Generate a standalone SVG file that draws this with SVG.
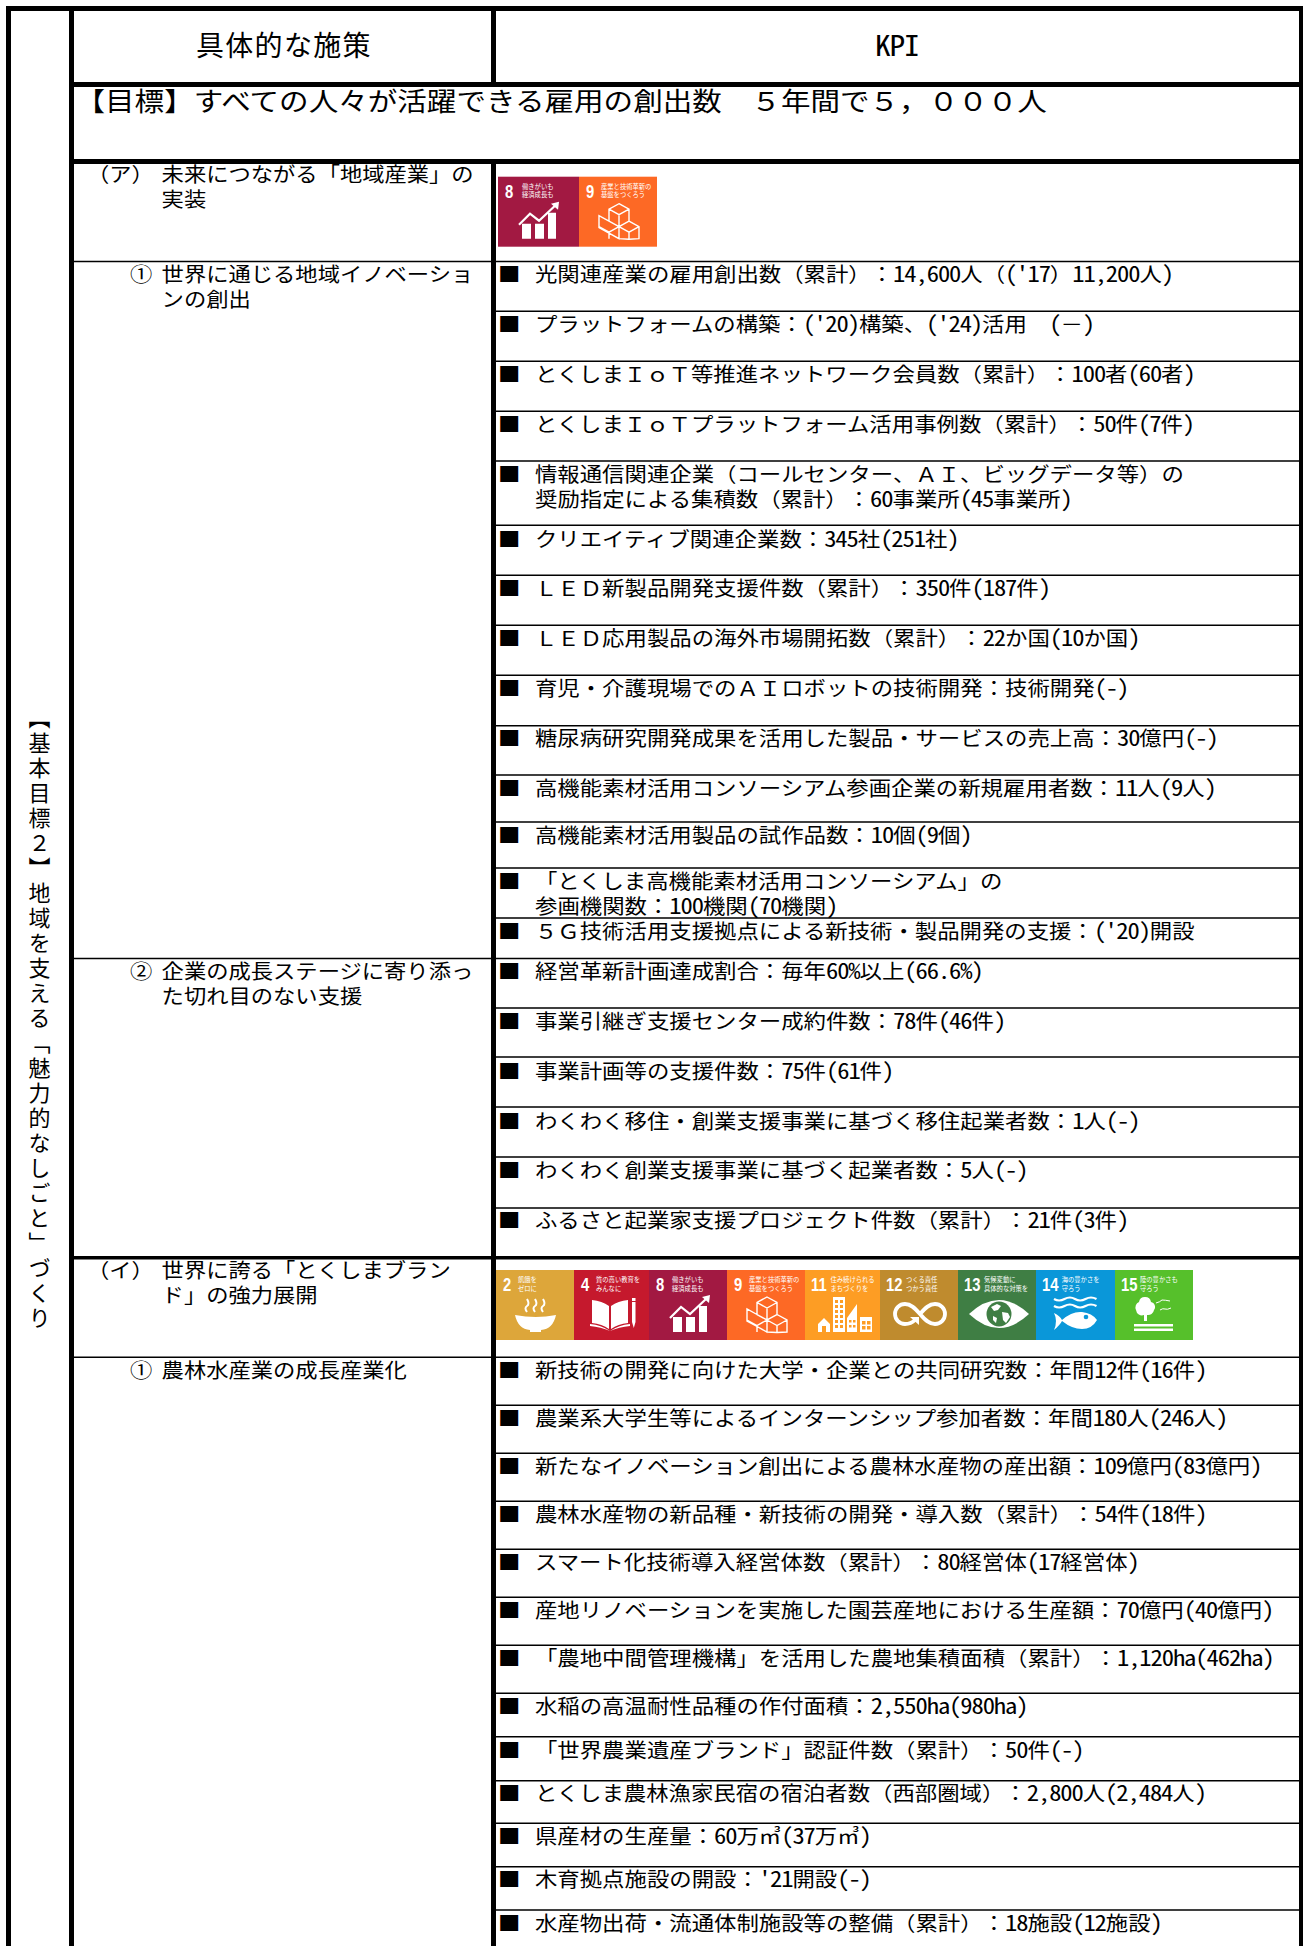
<svg xmlns="http://www.w3.org/2000/svg" width="1303" height="1946" viewBox="0 0 1303 1946">
<style>
text{font-family:"Noto Sans CJK JP","Noto Sans CJK SC",sans-serif;fill:#000;text-spacing-trim:space-all;font-size:20px}
.h{font-feature-settings:"hwid";font-size:22px;letter-spacing:-1px}
.head{font-size:28px;letter-spacing:1.300px}
.goal{font-size:26px}
.kpih{font-size:28px;letter-spacing:-1px;font-feature-settings:"hwid"}
.vert{font-size:22px;letter-spacing:3px;writing-mode:vertical-rl}
.thick{fill:#000}
.thin{stroke:#000;stroke-width:1.4;fill:none}
.ic text{fill:#fff;font-size:6.3px}
.ic text.n{font-family:"Liberation Sans",sans-serif;font-weight:700;font-size:19px}
.w{fill:#fff}
.s{fill:none;stroke:#fff;stroke-width:1.4}
</style>
<defs>
<g id="g8"><path class="w" d="M24 47h9v15h-9zM37 47h9v15h-9zM50 36h8v26h-8z"/><path class="s" style="stroke-width:2.2" d="M21 48L32 37L41 44L57 29"/><path class="w" d="M53 27L61 25L60 33z"/></g>
<g id="g9"><path class="s" d="M40 27l10 5.500v12l-10 5.500l-10-5.500v-12zM30 32.500l10 5.500l10-5.500M40 38v12M30 44.500l10 5.500v12l-10-5.500-10-5.500v-12zM20 50l10 5.500l10-5.500M30 55.500v6.500M50 44.500l10 5.500v12l-10 .5-10-.5v-12zM40 50l10 5.500l10-5.500M50 55.500v7"/></g>
</defs>
<rect width="1303" height="1946" fill="#fff"/>

<g id="connectors">
<rect class="thick" x="6" y="6" width="1297" height="5"/>
<rect class="thick" x="6" y="6" width="5" height="1940"/>
<rect class="thick" x="69" y="6" width="5" height="1940"/>
<rect class="thick" x="491" y="6" width="5" height="81"/>
<rect class="thick" x="491" y="159" width="5" height="1787"/>
<rect class="thick" x="1299" y="6" width="4" height="1940"/>
<rect class="thick" x="69" y="82" width="1234" height="5"/>
<rect class="thick" x="69" y="159" width="1234" height="5"/>
<rect class="thick" x="69" y="1256" width="1234" height="3.500"/>
<path class="thin" d="M74 261.500H1299M74 958.500H1299M74 1357.300H1299M496 311.300H1299M496 361.300H1299M496 411.300H1299M496 461H1299M496 525.300H1299M496 575.300H1299M496 625.300H1299M496 675.300H1299M496 725.700H1299M496 775H1299M496 822H1299M496 868H1299M496 918H1299M496 1008H1299M496 1057H1299M496 1107H1299M496 1157H1299M496 1208H1299M496 1405.300H1299M496 1453.300H1299M496 1501.300H1299M496 1549.300H1299M496 1597.300H1299M496 1645.300H1299M496 1693.300H1299M496 1736.700H1299M496 1780.700H1299M496 1823.300H1299M496 1866.700H1299M496 1910H1299"/>
</g>

<g id="side-title"><text class="vert" x="39.500" y="707">【基本目標２】地域を支える「魅力的なしごと」づくり</text></g>
<g id="head-measures"><text class="head" x="196" y="56">具体的な施策</text></g>
<g id="head-kpi"><text class="kpih" transform="matrix(1.12 0 0 1 875 56)">KPI</text></g>
<g id="goal"><text class="goal" transform="matrix(1.137 0 0 1 75.500 111)">【目標】すべての人々が活躍できる雇用の創出数　５年間で５，０００人</text></g>

<g id="measure-a"><text transform="matrix(1.115 0 0 1 87 182)">（ア）</text><text transform="matrix(1.115 0 0 1 161.600 182)">未来につながる「地域産業」の</text><text transform="matrix(1.115 0 0 1 161.600 207)">実装</text></g>
<g id="measure-a1"><text transform="matrix(1.115 0 0 1 130 282)">①</text><text transform="matrix(1.115 0 0 1 161.600 282)">世界に通じる地域イノベーショ</text><text transform="matrix(1.115 0 0 1 161.600 307)">ンの創出</text></g>
<g id="measure-a2"><text transform="matrix(1.115 0 0 1 130 979)">②</text><text transform="matrix(1.115 0 0 1 161.600 979)">企業の成長ステージに寄り添っ</text><text transform="matrix(1.115 0 0 1 161.600 1004)">た切れ目のない支援</text></g>
<g id="measure-b"><text transform="matrix(1.115 0 0 1 87 1278)">（イ）</text><text transform="matrix(1.115 0 0 1 161.600 1278)">世界に誇る「とくしまブラン</text><text transform="matrix(1.115 0 0 1 161.600 1303)">ド」の強力展開</text></g>
<g id="measure-b1"><text transform="matrix(1.115 0 0 1 130 1377.500)">①</text><text transform="matrix(1.115 0 0 1 161.600 1377.500)">農林水産業の成長産業化</text></g>

<g id="kpi-rows">
<g id="k01"><text transform="matrix(1.12 0 0 1 498 281.500)">■<tspan x="33">光関連産業の雇用創出数（累計）：</tspan><tspan class="h">14,600</tspan>人（<tspan class="h">('17</tspan>）<tspan class="h">11,200</tspan>人<tspan class="h">)</tspan></text></g>
<g id="k02"><text transform="matrix(1.12 0 0 1 498 331.800)">■<tspan x="33">プラットフォームの構築：</tspan><tspan class="h">('20)</tspan>構築、<tspan class="h">('24)</tspan>活用　<tspan class="h">(</tspan>－<tspan class="h">)</tspan></text></g>
<g id="k03"><text transform="matrix(1.12 0 0 1 498 381.800)">■<tspan x="33">とくしまＩｏＴ等推進ネットワーク会員数（累計）：</tspan><tspan class="h">100</tspan>者<tspan class="h">(60</tspan>者<tspan class="h">)</tspan></text></g>
<g id="k04"><text transform="matrix(1.12 0 0 1 498 431.800)">■<tspan x="33">とくしまＩｏＴプラットフォーム活用事例数（累計）：</tspan><tspan class="h">50</tspan>件<tspan class="h">(7</tspan>件<tspan class="h">)</tspan></text></g>
<g id="k05"><text transform="matrix(1.12 0 0 1 498 481.500)">■<tspan x="33">情報通信関連企業（コールセンター、ＡＩ、ビッグデータ等）の</tspan></text><text transform="matrix(1.12 0 0 1 535 507)">奨励指定による集積数（累計）：<tspan class="h">60</tspan>事業所<tspan class="h">(45</tspan>事業所<tspan class="h">)</tspan></text></g>
<g id="k06"><text transform="matrix(1.12 0 0 1 498 546.800)">■<tspan x="33">クリエイティブ関連企業数：</tspan><tspan class="h">345</tspan>社<tspan class="h">(251</tspan>社<tspan class="h">)</tspan></text></g>
<g id="k07"><text transform="matrix(1.12 0 0 1 498 595.800)">■<tspan x="33">ＬＥＤ新製品開発支援件数（累計）：</tspan><tspan class="h">350</tspan>件<tspan class="h">(187</tspan>件<tspan class="h">)</tspan></text></g>
<g id="k08"><text transform="matrix(1.12 0 0 1 498 645.800)">■<tspan x="33">ＬＥＤ応用製品の海外市場開拓数（累計）：</tspan><tspan class="h">22</tspan>か国<tspan class="h">(10</tspan>か国<tspan class="h">)</tspan></text></g>
<g id="k09"><text transform="matrix(1.12 0 0 1 498 695.800)">■<tspan x="33">育児・介護現場でのＡＩロボットの技術開発：技術開発</tspan><tspan class="h">(-)</tspan></text></g>
<g id="k10"><text transform="matrix(1.12 0 0 1 498 746.200)">■<tspan x="33">糖尿病研究開発成果を活用した製品・サービスの売上高：</tspan><tspan class="h">30</tspan>億円<tspan class="h">(-)</tspan></text></g>
<g id="k11"><text transform="matrix(1.12 0 0 1 498 795.500)">■<tspan x="33">高機能素材活用コンソーシアム参画企業の新規雇用者数：</tspan><tspan class="h">11</tspan>人<tspan class="h">(9</tspan>人<tspan class="h">)</tspan></text></g>
<g id="k12"><text transform="matrix(1.12 0 0 1 498 842.500)">■<tspan x="33">高機能素材活用製品の試作品数：</tspan><tspan class="h">10</tspan>個<tspan class="h">(9</tspan>個<tspan class="h">)</tspan></text></g>
<g id="k13"><text transform="matrix(1.12 0 0 1 498 888.500)">■<tspan x="33">「とくしま高機能素材活用コンソーシアム」の</tspan></text><text transform="matrix(1.12 0 0 1 535 913.500)">参画機関数：<tspan class="h">100</tspan>機関<tspan class="h">(70</tspan>機関<tspan class="h">)</tspan></text></g>
<g id="k14"><text transform="matrix(1.12 0 0 1 498 938.500)">■<tspan x="33">５Ｇ技術活用支援拠点による新技術・製品開発の支援：</tspan><tspan class="h">('20)</tspan>開設</text></g>
<g id="k15"><text transform="matrix(1.12 0 0 1 498 979)">■<tspan x="33">経営革新計画達成割合：毎年</tspan><tspan class="h">60%</tspan>以上<tspan class="h">(66.6%)</tspan></text></g>
<g id="k16"><text transform="matrix(1.12 0 0 1 498 1028.500)">■<tspan x="33">事業引継ぎ支援センター成約件数：</tspan><tspan class="h">78</tspan>件<tspan class="h">(46</tspan>件<tspan class="h">)</tspan></text></g>
<g id="k17"><text transform="matrix(1.12 0 0 1 498 1078.500)">■<tspan x="33">事業計画等の支援件数：</tspan><tspan class="h">75</tspan>件<tspan class="h">(61</tspan>件<tspan class="h">)</tspan></text></g>
<g id="k18"><text transform="matrix(1.12 0 0 1 498 1128.500)">■<tspan x="33">わくわく移住・創業支援事業に基づく移住起業者数：</tspan><tspan class="h">1</tspan>人<tspan class="h">(-)</tspan></text></g>
<g id="k19"><text transform="matrix(1.12 0 0 1 498 1177.500)">■<tspan x="33">わくわく創業支援事業に基づく起業者数：</tspan><tspan class="h">5</tspan>人<tspan class="h">(-)</tspan></text></g>
<g id="k20"><text transform="matrix(1.12 0 0 1 498 1227.500)">■<tspan x="33">ふるさと起業家支援プロジェクト件数（累計）：</tspan><tspan class="h">21</tspan>件<tspan class="h">(3</tspan>件<tspan class="h">)</tspan></text></g>
<g id="k21"><text transform="matrix(1.12 0 0 1 498 1377.800)">■<tspan x="33">新技術の開発に向けた大学・企業との共同研究数：年間</tspan><tspan class="h">12</tspan>件<tspan class="h">(16</tspan>件<tspan class="h">)</tspan></text></g>
<g id="k22"><text transform="matrix(1.12 0 0 1 498 1425.800)">■<tspan x="33">農業系大学生等によるインターンシップ参加者数：年間</tspan><tspan class="h">180</tspan>人<tspan class="h">(246</tspan>人<tspan class="h">)</tspan></text></g>
<g id="k23"><text transform="matrix(1.12 0 0 1 498 1473.800)">■<tspan x="33">新たなイノベーション創出による農林水産物の産出額：</tspan><tspan class="h">109</tspan>億円<tspan class="h">(83</tspan>億円<tspan class="h">)</tspan></text></g>
<g id="k24"><text transform="matrix(1.12 0 0 1 498 1521.800)">■<tspan x="33">農林水産物の新品種・新技術の開発・導入数（累計）：</tspan><tspan class="h">54</tspan>件<tspan class="h">(18</tspan>件<tspan class="h">)</tspan></text></g>
<g id="k25"><text transform="matrix(1.12 0 0 1 498 1569.800)">■<tspan x="33">スマート化技術導入経営体数（累計）：</tspan><tspan class="h">80</tspan>経営体<tspan class="h">(17</tspan>経営体<tspan class="h">)</tspan></text></g>
<g id="k26"><text transform="matrix(1.12 0 0 1 498 1617.800)">■<tspan x="33">産地リノベーションを実施した園芸産地における生産額：</tspan><tspan class="h">70</tspan>億円<tspan class="h">(40</tspan>億円<tspan class="h">)</tspan></text></g>
<g id="k27"><text transform="matrix(1.12 0 0 1 498 1665.800)">■<tspan x="33">「農地中間管理機構」を活用した農地集積面積（累計）：</tspan><tspan class="h">1,120ha(462ha)</tspan></text></g>
<g id="k28"><text transform="matrix(1.12 0 0 1 498 1713.800)">■<tspan x="33">水稲の高温耐性品種の作付面積：</tspan><tspan class="h">2,550ha(980ha)</tspan></text></g>
<g id="k29"><text transform="matrix(1.12 0 0 1 498 1758.200)">■<tspan x="33">「世界農業遺産ブランド」認証件数（累計）：</tspan><tspan class="h">50</tspan>件<tspan class="h">(-)</tspan></text></g>
<g id="k30"><text transform="matrix(1.12 0 0 1 498 1801.200)">■<tspan x="33">とくしま農林漁家民宿の宿泊者数（西部圏域）：</tspan><tspan class="h">2,800</tspan>人<tspan class="h">(2,484</tspan>人<tspan class="h">)</tspan></text></g>
<g id="k31"><text transform="matrix(1.12 0 0 1 498 1843.800)">■<tspan x="33">県産材の生産量：</tspan><tspan class="h">60</tspan>万㎥<tspan class="h">(37</tspan>万㎥<tspan class="h">)</tspan></text></g>
<g id="k32"><text transform="matrix(1.12 0 0 1 498 1887.200)">■<tspan x="33">木育拠点施設の開設：</tspan><tspan class="h">'21</tspan>開設<tspan class="h">(-)</tspan></text></g>
<g id="k33"><text transform="matrix(1.12 0 0 1 498 1930.500)">■<tspan x="33">水産物出荷・流通体制施設等の整備（累計）：</tspan><tspan class="h">18</tspan>施設<tspan class="h">(12</tspan>施設<tspan class="h">)</tspan></text></g>
</g>

<g id="sdg-a" class="ic">
<g id="sdg-a8" transform="translate(498 176.700)"><rect width="81" height="70" fill="#A21942"/><text class="n" transform="matrix(.78 0 0 1 7 21)">8</text><text x="24" y="12">働きがいも</text><text x="24" y="20.500">経済成長も</text><use href="#g8"/></g>
<g id="sdg-a9" transform="translate(579 176.700)"><rect width="78" height="70" fill="#FD6925"/><text class="n" transform="matrix(.78 0 0 1 7 21)">9</text><text x="22" y="12">産業と技術革新の</text><text x="22" y="20.500">基盤をつくろう</text><use href="#g9"/></g>
</g>

<g id="sdg-b" class="ic">
<g id="sdg-2" transform="translate(496 1270)"><rect width="78" height="70" fill="#DDA63A"/><text class="n" transform="matrix(.78 0 0 1 7 20.500)">2</text><text x="22" y="12">飢餓を</text><text x="22" y="20.500">ゼロに</text><path class="w" d="M19 45q21 4 41 0q-3 14-15 15v2h-11v-2q-12-1-15-15z"/><path class="s" style="stroke-width:2" d="M31 42q-3-4 0-6t0-7M39 42q-3-4 0-6t0-7M47 42q-3-4 0-6t0-7"/></g>
<g id="sdg-4" transform="translate(574 1270)"><rect width="75" height="70" fill="#C5192D"/><text class="n" transform="matrix(.78 0 0 1 7 20.500)">4</text><text x="22" y="12">質の高い教育を</text><text x="22" y="20.500">みんなに</text><path class="w" d="M18 30q10 1 17 6v23q-7-5-17-6zM37 36q7-5 17-6v23q-10 1-17 6zM16 54q11 1 20 7q9-6 20-7v2q-11 1-20 5q-9-4-20-5z"/><path class="w" d="M58 32h3.500v20l-1.700 6-1.800-6zM58 28h3.500v3h-3.500z"/></g>
<g id="sdg-8" transform="translate(649 1270)"><rect width="78" height="70" fill="#A21942"/><text class="n" transform="matrix(.78 0 0 1 7 20.500)">8</text><text x="23" y="12">働きがいも</text><text x="23" y="20.500">経済成長も</text><use href="#g8"/></g>
<g id="sdg-9" transform="translate(727 1270)"><rect width="78" height="70" fill="#FD6925"/><text class="n" transform="matrix(.78 0 0 1 7 20.500)">9</text><text x="22" y="12">産業と技術革新の</text><text x="22" y="20.500">基盤をつくろう</text><use href="#g9"/></g>
<g id="sdg-11" transform="translate(805 1270)"><rect width="75" height="70" fill="#FD9D24"/><text class="n" transform="matrix(.78 0 0 1 6 20.500)">11</text><text x="25.500" y="12">住み続けられる</text><text x="25.500" y="20.500">まちづくりを</text><path class="w" d="M13 54l6-6 6 6v8h-12zM28 27h12v35h-12zM42 62V48l10-14v28zM55 47h12v15h-12z"/><path fill="#FD9D24" d="M17 56h4v6h-4zM30 30h3v3h-3zM35 30h3v3h-3zM30 35h3v3h-3zM35 35h3v3h-3zM30 40h3v3h-3zM35 40h3v3h-3zM30 45h3v3h-3zM35 45h3v3h-3zM30 50h3v3h-3zM35 50h3v3h-3zM30 55h3v3h-3zM35 55h3v3h-3zM44 50h2.500v2.500h-2.500zM48 50h2.500v2.500h-2.500zM44 55h2.500v2.500h-2.500zM48 55h2.500v2.500h-2.500zM57 51h3.500v3.500h-3.500zM62 51h3.500v3.500h-3.500zM57 56h3.500v3.500h-3.500zM62 56h3.500v3.500h-3.500z"/></g>
<g id="sdg-12" transform="translate(880 1270)"><rect width="78" height="70" fill="#BF8B2E"/><text class="n" transform="matrix(.78 0 0 1 6 20.500)">12</text><text x="26" y="12">つくる責任</text><text x="26" y="20.500">つかう責任</text><path class="s" style="stroke-width:3.800" d="M40 44c-5-6-9-10-15-10a10 10 0 0 0 0 20c4 0 7-1 10-4M40 44c5-6 9-10 15-10a10 10 0 0 1 0 20c-6 0-10-4-15-10"/><path class="w" d="M30 47h9v8z"/></g>
<g id="sdg-13" transform="translate(958 1270)"><rect width="78" height="70" fill="#3F7E44"/><text class="n" transform="matrix(.78 0 0 1 6 20.500)">13</text><text x="26" y="12">気候変動に</text><text x="26" y="20.500">具体的な対策を</text><path class="w" d="M11 44Q41 16 71 44Q41 72 11 44z"/><circle cx="41" cy="44" r="12.500" fill="#3F7E44"/><path class="w" d="M33 37l6-3 4 2-3 4-4 1zM44 42l6 1 2 4-4 6-3-3zM35 46l4 2-1 5-3-3z"/></g>
<g id="sdg-14" transform="translate(1036 1270)"><rect width="79" height="70" fill="#0A97D9"/><text class="n" transform="matrix(.78 0 0 1 6 20.500)">14</text><text x="25.700" y="12">海の豊かさを</text><text x="25.700" y="20.500">守ろう</text><path class="s" style="stroke-width:2.200" d="M18 29q5 3 10.500 0t10.500 0 10.500 0 11 0M18 36q5 3 10.500 0t10.500 0 10.500 0 11 0"/><path class="w" d="M18 43q6 3 8 7q10-9 20-8t15 8q-5 9-15 9t-20-8q-2 4-8 9q4-9 0-17z"/><circle cx="50" cy="47" r="2.300" fill="#0A97D9"/></g>
<g id="sdg-15" transform="translate(1115 1270)"><rect width="78" height="70" fill="#56C02B"/><text class="n" transform="matrix(.78 0 0 1 6 20.500)">15</text><text x="25" y="12">陸の豊かさも</text><text x="25" y="20.500">守ろう</text><path class="w" d="M30 27a6 6 0 0 1 6 5a5 5 0 0 1 3 8a6 6 0 0 1-7 5v6h-3v-6a6 6 0 0 1-8-5a6 6 0 0 1 3-8a6 6 0 0 1 6-5zM19 54h39v2.500h-39zM19 58.500h39v2.500h-39z"/><path class="s" style="stroke-width:1" d="M41 33q4-1 6-3q3 0 8 1M45 40q3-2 5-1q2 1 6-1"/></g>
</g>
</svg>
